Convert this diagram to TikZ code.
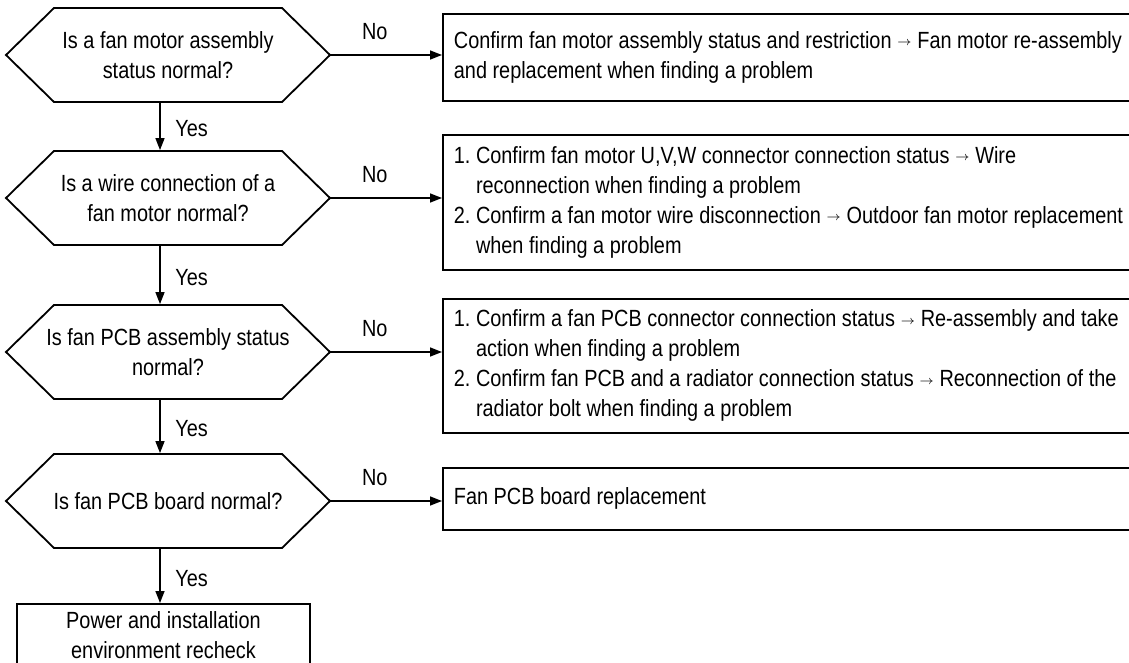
\documentclass[tikz,border=0pt]{standalone}
\usepackage{fontspec}
\setmainfont{Liberation Sans}[FakeStretch=0.85]
\usetikzlibrary{arrows.meta,calc}
\newcommand{\smallarr}{\raisebox{1.4pt}{\fontsize{6.5}{6.5}\selectfont$\rightarrow$}}

\begin{document}
\begin{tikzpicture}[x=0.5pt,y=-0.5pt,font=\fontsize{11.7}{15}\selectfont,
  decision/.style={align=center,inner sep=0pt,minimum width=114.5pt,minimum height=47.5pt},
  action/.style={draw,line width=0.9pt,anchor=north west,align=flush left,text width=360pt,inner xsep=5.5pt},
  flow/.style={-{Triangle[length=6pt,width=4.5pt]},line width=0.7pt}]
\clip (0,0) rectangle (1129,663);
% questions
\node[decision] (q1) at (168,55) {Is a fan motor assembly\\status normal?};
\node[decision] (q2) at (168,198) {Is a wire connection of a\\fan motor normal?};
\node[decision] (q3) at (168,352) {Is fan PCB assembly status\\normal?};
\node[decision] (q4) at (168,501) {Is fan PCB board normal?};
% actions
\node[action,minimum height=43.5pt] (a1) at (442,13) {Confirm fan motor assembly status and restriction \smallarr{} Fan motor re-assembly\\and replacement when finding a problem};
\node[action,minimum height=67.5pt] (a2) at (442,134) {1.~Confirm fan motor U,V,W connector connection status \smallarr{} Wire\\\phantom{1.~}reconnection when finding a problem\\2.~Confirm a fan motor wire disconnection \smallarr{} Outdoor fan motor replacement\\\phantom{1.~}when finding a problem};
\node[action,minimum height=67pt] (a3) at (442,298) {1.~Confirm a fan PCB connector connection status \smallarr{} Re-assembly and take\\\phantom{1.~}action when finding a problem\\2.~Confirm fan PCB and a radiator connection status \smallarr{} Reconnection of the\\\phantom{1.~}radiator bolt when finding a problem};
\node[action,minimum height=31pt] (a4) at (442,467) {Fan PCB board replacement};
\node[draw,line width=0.9pt,anchor=north,align=center,minimum width=146.5pt,minimum height=31pt] (done) at (163.5,603) {Power and installation\\environment recheck};
% hexagon outlines
\foreach \q in {q1,q2,q3,q4}
  \draw[line width=0.9pt] ($(\q)+(-114,-47)$) -- ($(\q)+(114,-47)$) -- ($(\q)+(162,0)$) -- ($(\q)+(114,47)$) -- ($(\q)+(-114,47)$) -- ($(\q)+(-162,0)$) -- cycle;
% no branches
\foreach \q/\a in {q1/a1,q2/a2,q3/a3,q4/a4}
  \draw[flow] ($(\q)+(162,0)$) -- (\q -| \a.west) node[pos=0.4,above=4pt] {No};
% yes branches
\foreach \q/\n in {q1/q2,q2/q3,q3/q4,q4/done}{
  \path ($(\q)+(-8,47)$) coordinate (s);
  \draw[flow] (s) -- (s |- \n.north) node[pos=0.55,right=4pt] {Yes};
}
\end{tikzpicture}
\end{document}
